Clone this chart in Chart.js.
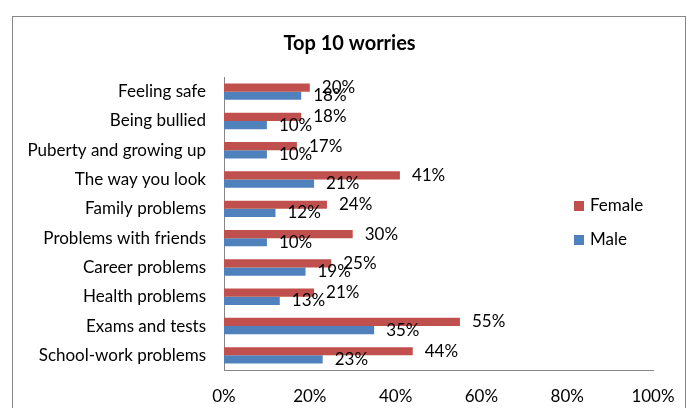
<!DOCTYPE html>
<html>
<head>
<meta charset="utf-8">
<script src="https://cdn.jsdelivr.net/npm/chart.js@4"></script>
<style>
    html, body { margin: 0; padding: 0; background: #fff; }
    #wrap { width: 693px; height: 408px; }
</style>
</head>
<body>
<div id="wrap"><canvas id="worriesChart" width="693" height="408"></canvas></div>
<script>
const chartTitle = 'Top 10 worries';
const categories = [
    'Feeling safe',
    'Being bullied',
    'Puberty and growing up',
    'The way you look',
    'Family problems',
    'Problems with friends',
    'Career problems',
    'Health problems',
    'Exams and tests',
    'School-work problems'
];
const femaleValues = [20, 18, 17, 41, 24, 30, 25, 21, 55, 44];
const maleValues = [18, 10, 10, 21, 12, 10, 19, 13, 35, 23];
const xTicks = [0, 20, 40, 60, 80, 100];

const FONT = 'Lato, "Liberation Sans", sans-serif';

// value labels just past the end of each bar
const barLabels = {
    id: 'barLabels',
    afterDatasetsDraw(chart) {
        const ctx = chart.ctx;
        ctx.save();
        ctx.font = '17px ' + FONT;
        ctx.fillStyle = '#000';
        ctx.textAlign = 'left';
        ctx.textBaseline = 'middle';
        chart.data.datasets.forEach((ds, i) => {
            chart.getDatasetMeta(i).data.forEach((bar, j) => {
                ctx.fillText(ds.data[j] + '%', bar.x + 12, bar.y);
            });
        });
        ctx.restore();
    }
};

// outer frame, title and the legend sitting inside the plot area like the excel one
const frameAndLegend = {
    id: 'frameAndLegend',
    beforeDraw(chart) {
        const ctx = chart.ctx;
        ctx.save();
        ctx.strokeStyle = '#868686';
        ctx.lineWidth = 1;
        ctx.strokeRect(12.5, 16.5, 673, 420);
        ctx.restore();
    },
    afterDraw(chart) {
        const ctx = chart.ctx;
        ctx.save();
        ctx.fillStyle = '#000';
        ctx.font = 'bold 20px ' + FONT;
        ctx.textAlign = 'center';
        ctx.textBaseline = 'middle';
        ctx.fillText(chartTitle, 349.5, 44);

        ctx.font = '17px ' + FONT;
        ctx.textAlign = 'left';
        chart.data.datasets.forEach((ds, i) => {
            const y = 206 + i * 34;
            ctx.fillStyle = ds.backgroundColor;
            ctx.fillRect(574, y - 5, 10, 10);
            ctx.fillStyle = '#000';
            ctx.fillText(ds.label, 590, y);
        });
        ctx.restore();
    }
};

new Chart(document.getElementById('worriesChart').getContext('2d'), {
    type: 'bar',
    data: {
        labels: categories,
        datasets: [{
            label: 'Female',
            data: femaleValues,
            backgroundColor: '#C0504D',
            categoryPercentage: 0.56,
            barPercentage: 1
        }, {
            label: 'Male',
            data: maleValues,
            backgroundColor: '#4F81BD',
            categoryPercentage: 0.56,
            barPercentage: 1
        }]
    },
    options: {
        indexAxis: 'y',
        responsive: false,
        animation: false,
        layout: {
            padding: { left: 0, right: 40, top: 77, bottom: 0 }
        },
        plugins: {
            legend: { display: false },
            tooltip: { enabled: false },
            title: { display: false }
        },
        scales: {
            x: {
                min: 0,
                max: 100,
                afterBuildTicks(scale) {
                    scale.ticks = xTicks.map(v => ({ value: v }));
                },
                afterFit(scale) {
                    scale.height = 38;
                },
                grid: { display: false, drawTicks: false },
                border: { display: true, color: '#868686', width: 1 },
                ticks: {
                    color: '#000',
                    font: { family: FONT, size: 17 },
                    padding: 16,
                    callback: v => v + '%'
                }
            },
            y: {
                afterFit(scale) {
                    scale.width = 224;
                },
                grid: { display: false, drawTicks: false },
                border: { display: true, color: '#868686', width: 1 },
                ticks: {
                    color: '#000',
                    font: { family: FONT, size: 17 },
                    padding: 18
                }
            }
        }
    },
    plugins: [barLabels, frameAndLegend]
});
</script>
</body>
</html>
